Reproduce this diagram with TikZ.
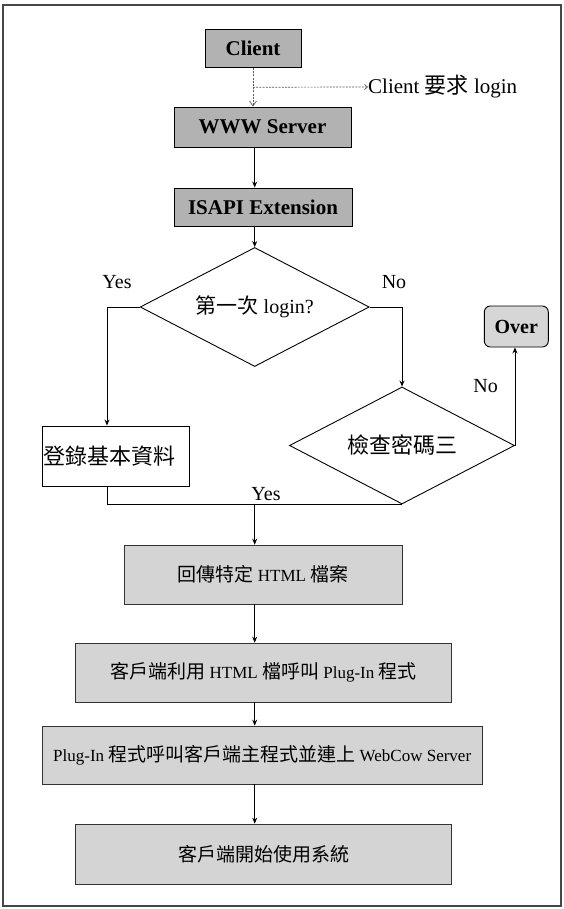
\documentclass[tikz,border=0pt]{standalone}
\usepackage{fontspec}
\setmainfont{Liberation Serif}
\newfontfamily\cjkf{Noto Sans CJK TC}
\usetikzlibrary{shapes.geometric,arrows.meta,calc}
% CJK run at a given size
\newcommand\zh[2]{{\fontsize{#1}{#1}\selectfont\cjkf #2}}
\definecolor{darkbox}{RGB}{178,178,178}
\definecolor{lightbox}{RGB}{212,212,212}
\definecolor{overbox}{RGB}{214,214,214}
\definecolor{frame}{RGB}{70,70,70}
\tikzset{
  topbox/.style={draw=black, line width=0.9pt, fill=darkbox, inner sep=0pt,
    font=\fontsize{21}{22}\selectfont\bfseries},
  graybox/.style={draw=black!80, line width=0.7pt, fill=lightbox, inner sep=0pt,
    font=\fontsize{17}{19}\selectfont},
  whitebox/.style={draw=black, line width=0.9pt, fill=white, inner sep=0pt},
  decision/.style={diamond, shape aspect=2, draw=black, line width=0.9pt,
    inner sep=0pt, font=\fontsize{20}{22}\selectfont},
  flow/.style={draw=black, line width=0.9pt, -{Stealth[length=6pt,width=5pt]}},
  plain/.style={draw=black, line width=0.9pt},
  lbl/.style={font=\fontsize{20}{22}\selectfont, inner sep=0pt},
}
\begin{document}
\begin{tikzpicture}[x=1pt, y=-1pt]
\useasboundingbox (0,0) rectangle (564,909);
% outer frame
\draw[frame, line width=1.6pt] (3,5) rectangle (561,906);

% request path
\node[topbox, minimum width=96pt, minimum height=38pt] (client) at (253,48.5) {Client};
\node[topbox, minimum width=177pt, minimum height=40pt] (www) at (262.5,127) {WWW Server};
\node[topbox, minimum width=178pt, minimum height=38pt] (isapi) at (263,207) {ISAPI Extension};

% decisions
\node[decision, minimum width=229pt, minimum height=119pt] (d1) at (254.7,307)
  {\zh{21}{第一次} login?};
\node[decision, minimum width=225pt, minimum height=117pt] (d2) at (402,445.5)
  {\zh{22}{檢查密碼三}};
\node[whitebox, minimum width=147pt, minimum height=60pt] (reg) at (116,456)
  {\makebox[145pt][l]{\zh{22}{登錄基本資料}}};
\node[draw=black, line width=0.9pt, fill=overbox, rounded corners=6pt, inner sep=0pt,
  minimum width=64pt, minimum height=41pt, font=\fontsize{20}{21}\selectfont\bfseries]
  (over) at (516.3,326.5) {Over};

% result path
\node[graybox, minimum width=278pt, minimum height=59pt] (html) at (263,574.5)
  {\zh{19}{回傳特定} HTML \zh{19}{檔案}};
\node[graybox, minimum width=376pt, minimum height=59pt] (plugin) at (263.5,672.5)
  {\zh{19}{客戶端利用} HTML \zh{19}{檔呼叫} Plug-In \zh{19}{程式}};
\node[graybox, minimum width=440pt, minimum height=58pt] (connect) at (262.2,755)
  {Plug-In \zh{19}{程式呼叫客戶端主程式並連上} WebCow Server};
\node[graybox, minimum width=376pt, minimum height=60pt] (start) at (263.5,854)
  {\zh{19}{客戶端開始使用系統}};

% client request (dashed) with its note
\draw[gray!70!black, line width=0.7pt, dash pattern=on 2pt off 1.2pt,
  -{Straight Barb[length=5pt,width=7pt]}] (client.south) -- (client.south |- www.north);
\coordinate (tap) at ($(client.south)!0.5!(client.south |- www.north)$);
\node[lbl, anchor=west, font=\fontsize{21}{22}\selectfont] (note) at (368,87)
  {Client \zh{22}{要求} login};
\draw[gray!70!black, line width=0.7pt, dash pattern=on 2pt off 1.2pt,
  -{Straight Barb[length=3pt,width=5pt]}] (tap) -- (note.west);

% main connectors
\draw[flow] (d1.north |- www.south) -- (d1.north |- isapi.north);
\draw[flow] (d1.north |- isapi.south) -- (d1.north);
\draw[flow] (d1.west) -| ([xshift=-9pt]reg.north);
\draw[flow] (d1.east) -| (d2.north);
\draw[flow] (d2.east) -- (d2.east |- over.south);
\draw[plain] ([xshift=-9pt]reg.south) |- (d2.south);
\draw[flow] (d1.south |- d2.south) -- (d1.south |- html.north);
\draw[flow] (d1.south |- html.south) -- (d1.south |- plugin.north);
\draw[flow] (d1.south |- plugin.south) -- (d1.south |- connect.north);
\draw[flow] (d1.south |- connect.south) -- (d1.south |- start.north);

% branch labels
\node[lbl] (yes1) at (117,282) {Yes};
\node[lbl] (no1) at (394,282) {No};
\node[lbl] (no2) at (485.6,386.5) {No};
\node[lbl] (yes2) at (266,494) {Yes};
\end{tikzpicture}
\end{document}
